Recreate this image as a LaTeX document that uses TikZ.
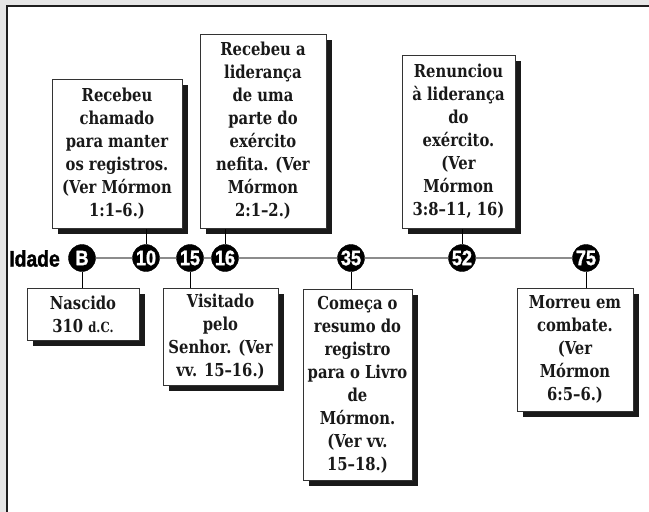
\documentclass[tikz,border=0pt]{standalone}
\usepackage{fontspec}
\setmainfont{DejaVu Serif}[FakeStretch=0.83]
\newfontfamily\numfont{Liberation Sans}[FakeStretch=0.86, FakeBold=1.5]
\usetikzlibrary{shadows}
\definecolor{bggray}{HTML}{E6E6E6}
\definecolor{framec}{HTML}{1E1E1E}
\definecolor{boxline}{HTML}{333333}
\definecolor{shadowc}{HTML}{1A1A1A}
\definecolor{linegray}{HTML}{8C8C8C}
\newcommand{\boxfont}{\bfseries\fontsize{17.8}{23}\selectfont}
\newcommand{\dotfont}{\numfont\bfseries\fontsize{21}{21}\selectfont}
\tikzset{
  evbox/.style={draw=boxline, line width=1pt, fill=white, align=center,
    inner sep=0pt, font=\boxfont, text=black!90,
    drop shadow={shadow xshift=6pt, shadow yshift=-6pt, fill=shadowc, opacity=1}},
  agedot/.style={circle, fill=black, draw=black, minimum size=27pt, inner sep=0pt,
    text=white, font=\dotfont},
  tline/.style={draw=linegray, line width=2pt},
  conn/.style={draw=black, line width=1pt}
}
\begin{document}
\begin{tikzpicture}[x=1pt,y=-1pt]
\useasboundingbox (0,0) rectangle (649,512);
\fill[bggray] (0,0) rectangle (649,512);
\fill[white] (7,6) rectangle (649,512);
\draw[framec, line width=2pt] (7,512) -- (7,6) -- (649,6);

\coordinate (x10) at (146,258);
\coordinate (x16) at (225,258);
\coordinate (x52) at (462,258);
\coordinate (xB) at (82,258);
\coordinate (x15) at (190,258);
\coordinate (x35) at (351,258);
\coordinate (x75) at (586,258);

% age markers
\node[agedot] (cB) at (xB) {B};
\node[agedot] (c10) at (x10) {10};
\node[agedot] (c15) at (x15) {15};
\node[agedot] (c16) at (x16) {16};
\node[agedot] (c35) at (x35) {35};
\node[agedot] (c52) at (x52) {52};
\node[agedot] (c75) at (x75) {75};
\node[anchor=east, inner sep=0pt, font={\numfont\bfseries\fontsize{22.5}{22.5}\selectfont}] (idade) at (60,258.5) {Idade};

% boxes
\node[evbox, minimum width=130pt, minimum height=149pt] (b10) at (117,153.5)
  {Recebeu\\chamado\\para manter\\os registros.\\(Ver Mórmon\\1:1–6.)};
\node[evbox, minimum width=126pt, minimum height=194pt] (b16) at (263,131)
  {Recebeu a\\liderança\\de uma\\parte do\\exército\\nefita. (Ver\\Mórmon\\2:1–2.)};
\node[evbox, minimum width=113pt, minimum height=173pt] (b52) at (458.5,141.5)
  {Renunciou\\à liderança\\do\\exército.\\(Ver\\Mórmon\\3:8–11, 16)};
\node[evbox, minimum width=112pt, minimum height=52pt] (bB) at (83,314)
  {Nascido\\310 {\fontsize{14}{23}\selectfont d.C.}};
\node[evbox, minimum width=115pt, minimum height=97pt] (b15) at (220.5,336.5)
  {Visitado\\pelo\\Senhor. (Ver\\vv. 15–16.)};
\node[evbox, minimum width=109pt, minimum height=191pt] (b35) at (357.5,384.5)
  {Começa o\\resumo do\\registro\\para o Livro\\de\\Mórmon.\\(Ver vv.\\15–18.)};
\node[evbox, minimum width=116pt, minimum height=123pt] (b75) at (575,349.5)
  {Morreu em\\combate.\\(Ver\\Mórmon\\6:5–6.)};

% connectors
\draw[conn] (c10.north) -- (c10.north |- b10.south);
\draw[conn] (c16.north) -- (c16.north |- b16.south);
\draw[conn] (c52.north) -- (c52.north |- b52.south);
\draw[conn] (cB.south) -- (cB.south |- bB.north);
\draw[conn] (c15.south) -- (c15.south |- b15.north);
\draw[conn] (c35.south) -- (c35.south |- b35.north);
\draw[conn] (c75.south) -- (c75.south |- b75.north);

% timeline segments between markers
\draw[tline] (cB.east) -- (c10.west);
\draw[tline] (c10.east) -- (c15.west);
\draw[tline] (c15.east) -- (c16.west);
\draw[tline] (c16.east) -- (c35.west);
\draw[tline] (c35.east) -- (c52.west);
\draw[tline] (c52.east) -- (c75.west);
\end{tikzpicture}
\end{document}
